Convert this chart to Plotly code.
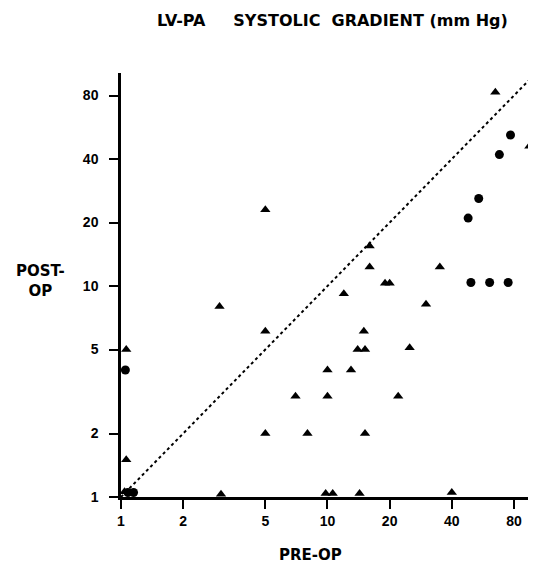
import plotly.graph_objects as go

# Data (PRE-OP, POST-OP gradients in mmHg)
tri_pre = [65, 95, 16, 16, 35, 19, 20, 12, 5, 3, 5, 1.06, 7, 5, 8, 1.06, 3.05,
           30, 15, 14, 15.2, 25, 10, 13, 10, 22, 15.2, 9.8, 10.6, 14.3, 40, 1.04]
tri_post = [83, 46, 15.5, 12.3, 12.3, 10.3, 10.3, 9.2, 23, 8, 6.1, 5, 3, 2, 2, 1.5, 1.03,
            8.2, 6.1, 5, 5, 5.1, 4, 4, 3, 3, 2, 1.04, 1.04, 1.04, 1.05, 1.06]
dot_pre = [77, 68, 54, 48, 49.5, 61, 75, 1.05, 1.08, 1.15]
dot_post = [52, 42, 26, 21, 10.4, 10.4, 10.4, 4, 1.05, 1.05]
identity = [1, 100]
tick_vals = [1, 2, 5, 10, 20, 40, 80]
tick_text = ["1", "2", "5", "10", "20", "40", "80"]

FONT = "DejaVu Sans"
TICKFONT = "Liberation Sans"
OFF = 8  # page body margin

fig = go.Figure()
fig.add_trace(go.Scatter(x=identity, y=identity, mode="lines",
                         line=dict(color="black", width=2, dash="dot"),
                         hoverinfo="skip", cliponaxis=False))
fig.add_trace(go.Scatter(x=tri_pre, y=tri_post, mode="markers",
                         marker=dict(symbol="triangle-up", size=9, color="black"),
                         cliponaxis=False))
fig.add_trace(go.Scatter(x=dot_pre, y=dot_post, mode="markers",
                         marker=dict(symbol="circle", size=9, color="black"),
                         cliponaxis=False))

axis_common = dict(type="log", tickvals=tick_vals, ticktext=tick_text,
                   showgrid=False, zeroline=False, showline=True,
                   linecolor="black", linewidth=2.5, ticks="outside",
                   ticklen=9, tickwidth=2, tickcolor="black",
                   tickfont=dict(family=TICKFONT, size=14, color="black", weight="bold"))

L, T, B = 121 - OFF, 73 - OFF, 67
W, H = 536 - OFF, 564 - OFF
pw, ph = W - L - 1, H - T - B

def px(xabs):
    return (xabs - OFF - L) / pw

def py(yabs):
    return (H - B - (yabs - OFF)) / ph

sp = "&nbsp;"
title = "LV-PA" + sp * 5 + "SYSTOLIC" + sp * 2 + "GRADIENT" + sp + "(mm" + sp + "Hg)"

fig.update_layout(
    width=W, height=H,
    margin=dict(l=L, r=1, t=T, b=B),
    paper_bgcolor="white", plot_bgcolor="white",
    showlegend=False,
    xaxis=dict(range=[0, 2.005], **axis_common),
    yaxis=dict(range=[0, 2.01], ticklabelstandoff=8, **axis_common),
    annotations=[
        dict(text=title,
             xref="paper", yref="paper", x=px(332), y=py(20),
             xanchor="center", yanchor="middle", showarrow=False,
             font=dict(family=FONT, size=16, color="black", weight="bold")),
        dict(text="POST-<br>OP", xref="paper", yref="paper",
             x=px(40), y=py(281), xanchor="center", yanchor="middle",
             showarrow=False, align="center",
             font=dict(family=FONT, size=15, color="black", weight="bold")),
        dict(text="PRE-OP", xref="paper", yref="paper",
             x=px(310), y=py(555), xanchor="center", yanchor="middle",
             showarrow=False,
             font=dict(family=FONT, size=15, color="black", weight="bold")),
    ],
)

fig.write_html("out.html")
